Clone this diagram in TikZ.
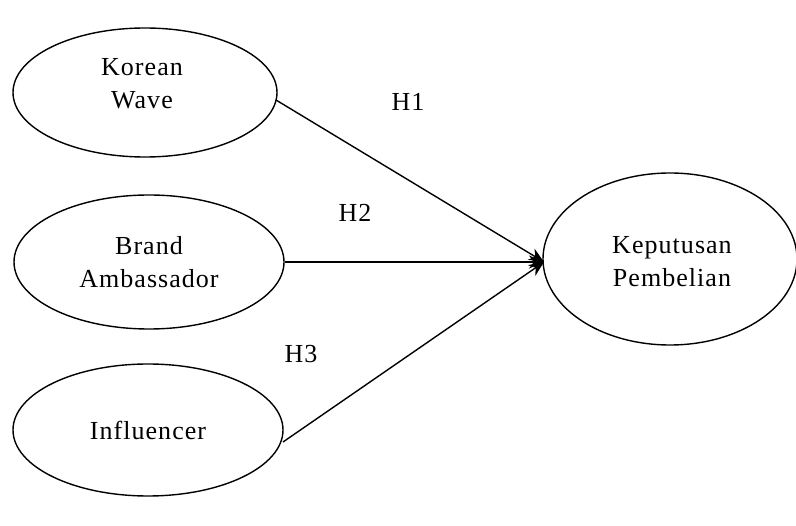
\documentclass[tikz,border=0pt]{standalone}
\usepackage{fontspec}
\setmainfont[LetterSpace=4]{Liberation Serif}
\usetikzlibrary{arrows.meta}
\begin{document}
\begin{tikzpicture}[x=1pt,y=-1pt,
  ell/.style={line width=1.4pt},
  lbl/.style={font=\fontsize{26}{33}\selectfont,align=center,inner sep=0pt},
  conn/.style={line width=1.4pt,-{Stealth[length=15pt,width=13pt]}}]
\useasboundingbox (0,0) rectangle (796,526);
\draw[ell] (145,92.5) ellipse (132 and 64.5);
\draw[ell] (149,262) ellipse (135 and 67);
\draw[ell] (148,430) ellipse (135 and 66);
\draw[ell] (670,259) ellipse (127 and 86);
\coordinate (kw) at (276,100);
\coordinate (ba) at (285,262);
\coordinate (inf) at (283,442);
\coordinate (kp) at (544,262);
\node[lbl] (t1) at (142,84) {Korean\\Wave};
\node[lbl] (t2) at (149,262) {Brand\\Ambassador};
\node[lbl] (t3) at (148,430) {Influencer};
\node[lbl] (t4) at (672,262) {Keputusan\\Pembelian};
\node[lbl] (h1) at (408,102) {H1};
\node[lbl] (h2) at (355,213) {H2};
\node[lbl] (h3) at (301,354) {H3};
\draw[conn] (kw) -- (kp);
\draw[conn] (ba) -- (kp);
\draw[conn] (inf) -- (kp);
\end{tikzpicture}
\end{document}
